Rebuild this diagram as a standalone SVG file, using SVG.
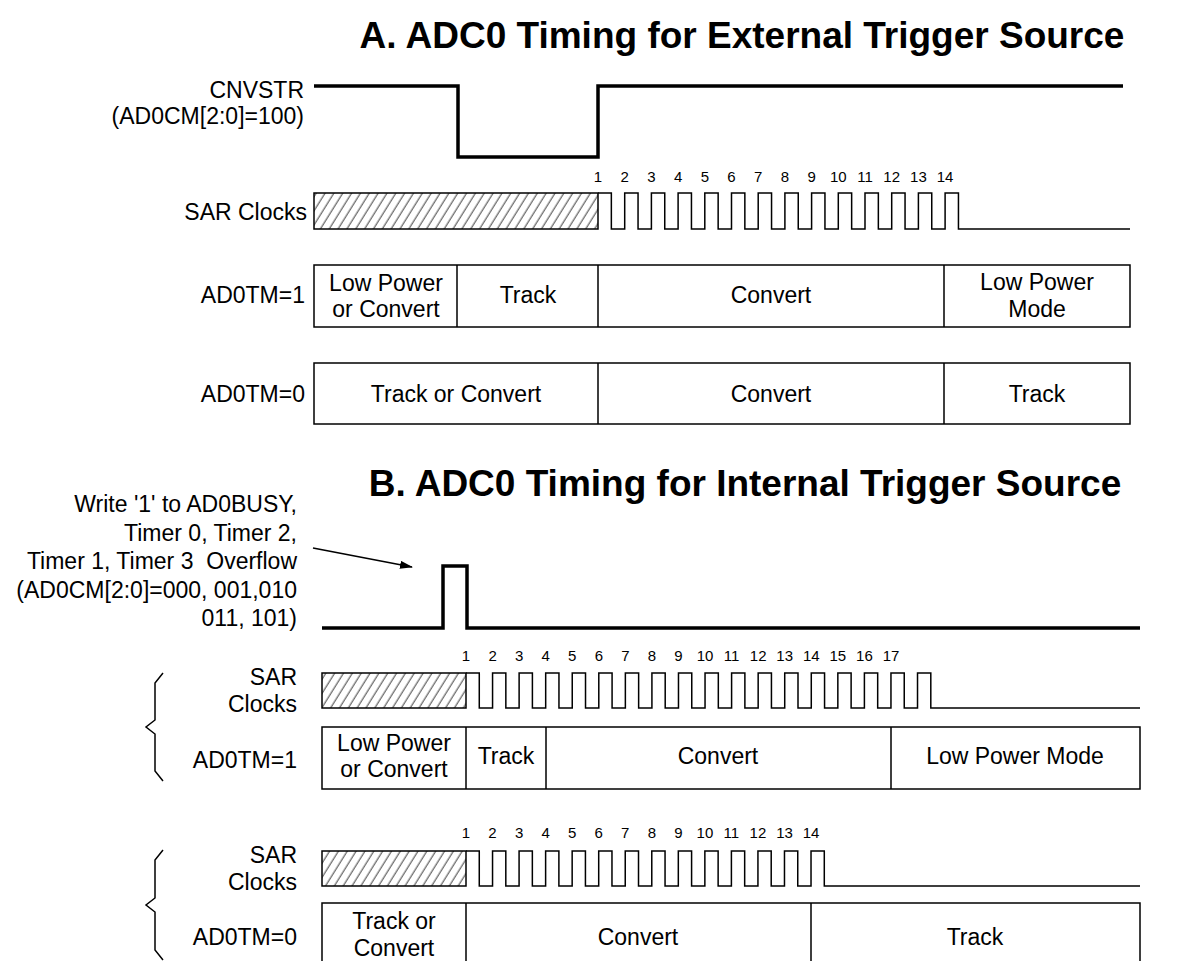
<svg xmlns="http://www.w3.org/2000/svg" width="1185" height="961" viewBox="0 0 1185 961">
<style>
.t{font-family:"Liberation Sans",Arial,sans-serif;font-size:23px;fill:#000}
.r{text-anchor:end}
.c{text-anchor:middle}
.pre{white-space:pre}
.n{font-family:"Liberation Sans",Arial,sans-serif;font-size:15px;fill:#000;text-anchor:middle}
.h{font-family:"Liberation Sans",Arial,sans-serif;font-size:37px;font-weight:bold;fill:#000;text-anchor:middle}
.thick{fill:none;stroke:#000;stroke-width:3.5}
.thin{fill:none;stroke:#000;stroke-width:1.5}
.box{fill:#fff;stroke:#000;stroke-width:1.5}
.hat{fill:url(#hatch);stroke:#000;stroke-width:1.5}
</style>
<defs>
<pattern id="hatch" patternUnits="userSpaceOnUse" width="7.5" height="20" patternTransform="rotate(32)">
<line x1="3" y1="0" x2="3" y2="20" stroke="#222" stroke-width="0.9"/>
</pattern>
<marker id="arr" markerWidth="13" markerHeight="8" refX="12" refY="4" orient="auto" markerUnits="userSpaceOnUse">
<path d="M0,0 L13,4 L0,8 Z" fill="#000"/>
</marker>
</defs>
<rect width="1185" height="961" fill="#fff"/>

<text class="h" x="742" y="48">A. ADC0 Timing for External Trigger Source</text>

<g id="cnvstr">
<text class="t r" x="304" y="98">CNVSTR</text>
<text class="t r" x="304" y="124">(AD0CM[2:0]=100)</text>
<path class="thick" d="M314,86 H458 V157 H598 V86 H1123"/>
</g>

<g id="sarA">
<text class="t r" x="307" y="220">SAR Clocks</text>
<rect class="hat" x="314" y="193" width="284" height="36"/>
<path class="thin" d="M598,193 h13.35 v36 h13.35 v-36 h13.35 v36 h13.35 v-36 h13.35 v36 h13.35 v-36 h13.35 v36 h13.35 v-36 h13.35 v36 h13.35 v-36 h13.35 v36 h13.35 v-36 h13.35 v36 h13.35 v-36 h13.35 v36 h13.35 v-36 h13.35 v36 h13.35 v-36 h13.35 v36 h13.35 v-36 h13.35 v36 h13.35 v-36 h13.35 v36 h13.35 v-36 h13.35 v36 h13.35 v-36 h13.35 v36 H1130"/>
<g class="n">
<text x="598" y="182">1</text><text x="624.7" y="182">2</text><text x="651.4" y="182">3</text><text x="678.1" y="182">4</text><text x="704.8" y="182">5</text><text x="731.5" y="182">6</text><text x="758.2" y="182">7</text><text x="784.9" y="182">8</text><text x="811.6" y="182">9</text><text x="838.3" y="182">10</text><text x="865" y="182">11</text><text x="891.7" y="182">12</text><text x="918.4" y="182">13</text><text x="945.1" y="182">14</text>
</g>
</g>

<g id="tm1A">
<text class="t r" x="305" y="303">AD0TM=1</text>
<rect class="box" x="314" y="265" width="816" height="62"/>
<path class="thin" d="M457,265 V327 M598,265 V327 M944,265 V327"/>
<text class="t c" x="386" y="291">Low Power</text>
<text class="t c" x="386" y="317">or Convert</text>
<text class="t c" x="528" y="303">Track</text>
<text class="t c" x="771" y="303">Convert</text>
<text class="t c" x="1037" y="290">Low Power</text>
<text class="t c" x="1037" y="317">Mode</text>
</g>

<g id="tm0A">
<text class="t r" x="305" y="402">AD0TM=0</text>
<rect class="box" x="314" y="363" width="816" height="61"/>
<path class="thin" d="M598,363 V424 M944,363 V424"/>
<text class="t c" x="456" y="402">Track or Convert</text>
<text class="t c" x="771" y="402">Convert</text>
<text class="t c" x="1037" y="402">Track</text>
</g>

<text class="h" x="745" y="496">B. ADC0 Timing for Internal Trigger Source</text>

<g id="trigB">
<text class="t r" x="297" y="512">Write '1' to AD0BUSY,</text>
<text class="t r" x="297" y="541">Timer 0, Timer 2,</text>
<text class="t r pre" x="297" y="569">Timer 1, Timer 3  Overflow</text>
<text class="t r" x="297" y="598">(AD0CM[2:0]=000, 001,010</text>
<text class="t r" x="297" y="626">011, 101)</text>
<path class="thick" d="M322,628 H443 V566 H467 V628 H1140"/>
</g>

<g id="connectors">
<line x1="313" y1="548" x2="412" y2="567" stroke="#000" stroke-width="1.5" marker-end="url(#arr)"/>
</g>

<g id="sarB1">
<text class="t r" x="297" y="685">SAR</text>
<text class="t r" x="297" y="712">Clocks</text>
<rect class="hat" x="322" y="673" width="144" height="35"/>
<path class="thin" d="M466,673 h13.28 v35 h13.28 v-35 h13.28 v35 h13.28 v-35 h13.28 v35 h13.28 v-35 h13.28 v35 h13.28 v-35 h13.28 v35 h13.28 v-35 h13.28 v35 h13.28 v-35 h13.28 v35 h13.28 v-35 h13.28 v35 h13.28 v-35 h13.28 v35 h13.28 v-35 h13.28 v35 h13.28 v-35 h13.28 v35 h13.28 v-35 h13.28 v35 h13.28 v-35 h13.28 v35 h13.28 v-35 h13.28 v35 h13.28 v-35 h13.28 v35 h13.28 v-35 h13.28 v35 h13.28 v-35 h13.28 v35 h13.28 v-35 h13.28 v35 H1140"/>
<g class="n">
<text x="466" y="661">1</text><text x="492.6" y="661">2</text><text x="519.1" y="661">3</text><text x="545.7" y="661">4</text><text x="572.2" y="661">5</text><text x="598.8" y="661">6</text><text x="625.4" y="661">7</text><text x="651.9" y="661">8</text><text x="678.5" y="661">9</text><text x="705" y="661">10</text><text x="731.6" y="661">11</text><text x="758.2" y="661">12</text><text x="784.7" y="661">13</text><text x="811.3" y="661">14</text><text x="837.8" y="661">15</text><text x="864.4" y="661">16</text><text x="891" y="661">17</text>
</g>
<path class="thin" d="M163,673 L155,683 V720 L146,727 L155,734 V771 L163,781"/>
</g>

<g id="tm1B">
<text class="t r" x="297" y="768">AD0TM=1</text>
<rect class="box" x="322" y="727" width="818" height="62"/>
<path class="thin" d="M466,727 V789 M546,727 V789 M891,727 V789"/>
<text class="t c" x="394" y="751">Low Power</text>
<text class="t c" x="394" y="777">or Convert</text>
<text class="t c" x="506" y="764">Track</text>
<text class="t c" x="718" y="764">Convert</text>
<text class="t c" x="1015" y="764">Low Power Mode</text>
</g>

<g id="sarB2">
<text class="t r" x="297" y="863">SAR</text>
<text class="t r" x="297" y="890">Clocks</text>
<rect class="hat" x="322" y="851" width="144" height="35"/>
<path class="thin" d="M466,851 h13.27 v35 h13.27 v-35 h13.27 v35 h13.27 v-35 h13.27 v35 h13.27 v-35 h13.27 v35 h13.27 v-35 h13.27 v35 h13.27 v-35 h13.27 v35 h13.27 v-35 h13.27 v35 h13.27 v-35 h13.27 v35 h13.27 v-35 h13.27 v35 h13.27 v-35 h13.27 v35 h13.27 v-35 h13.27 v35 h13.27 v-35 h13.27 v35 h13.27 v-35 h13.27 v35 h13.27 v-35 h13.27 v35 H1140"/>
<g class="n">
<text x="466" y="838">1</text><text x="492.5" y="838">2</text><text x="519.1" y="838">3</text><text x="545.6" y="838">4</text><text x="572.2" y="838">5</text><text x="598.7" y="838">6</text><text x="625.2" y="838">7</text><text x="651.8" y="838">8</text><text x="678.3" y="838">9</text><text x="704.9" y="838">10</text><text x="731.4" y="838">11</text><text x="757.9" y="838">12</text><text x="784.5" y="838">13</text><text x="811" y="838">14</text>
</g>
<path class="thin" d="M163,850 L155,860 V898 L146,905 L155,912 V950 L163,960"/>
</g>

<g id="tm0B">
<text class="t r" x="297" y="945">AD0TM=0</text>
<rect class="box" x="322" y="903" width="818" height="70"/>
<path class="thin" d="M466,903 V961 M811,903 V961"/>
<text class="t c" x="394" y="929">Track or</text>
<text class="t c" x="394" y="956">Convert</text>
<text class="t c" x="638" y="945">Convert</text>
<text class="t c" x="975" y="945">Track</text>
</g>
</svg>
